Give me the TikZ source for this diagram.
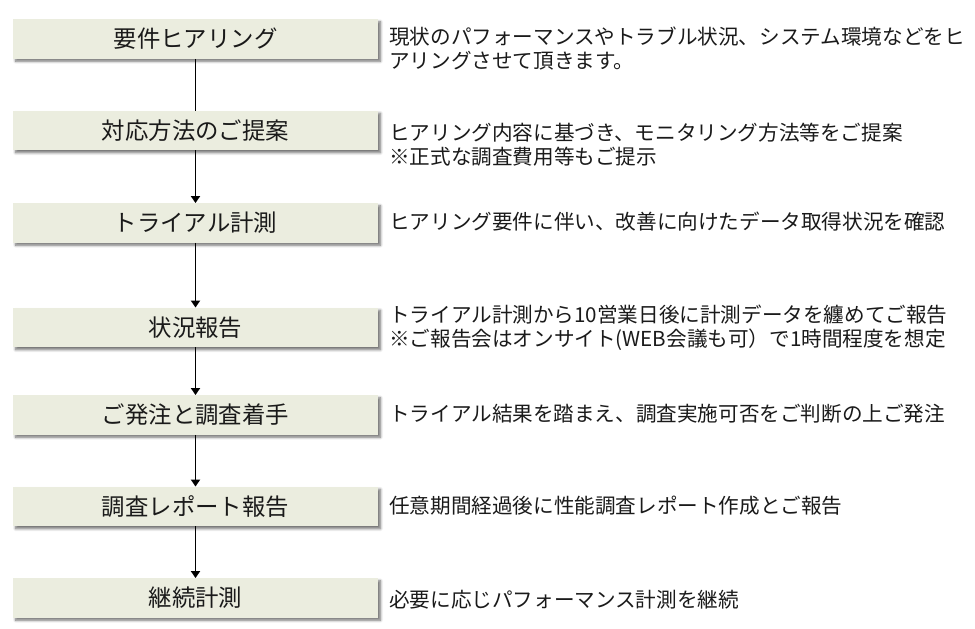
\documentclass[tikz,border=0pt]{standalone}
\usepackage{fontspec}
\newfontfamily\jp{Noto Sans CJK JP}
\usetikzlibrary{arrows.meta,shadows.blur}
\definecolor{boxfill}{HTML}{EBEDDF}
\definecolor{txt}{HTML}{1A1A1A}
\tikzset{
  stepbox/.style={draw=none, fill=boxfill, minimum width=365pt, minimum height=39.5pt,
    inner sep=0pt, font=\jp\fontsize{23.4}{26}\selectfont, text=txt,
    blur shadow={shadow xshift=2.5pt, shadow yshift=-2.5pt, shadow blur steps=6, shadow blur radius=2.5pt, shadow opacity=55}},
  desc/.style={anchor=west, inner sep=0pt, align=left, font=\jp\fontsize{20.6}{24}\selectfont, text=txt},
  link/.style={line width=1.8pt, black},
  arr/.style={link, -{Triangle[width=9pt,length=7pt]}}
}
\begin{document}
\begin{tikzpicture}[x=1pt,y=-1pt]
\useasboundingbox (0,0) rectangle (975,629);
\node[stepbox] (b1) at (195.5,39) {要件ヒアリング};
\node[stepbox] (b2) at (195.5,130.5) {対応方法のご提案};
\node[stepbox] (b3) at (195.5,223) {トライアル計測};
\node[stepbox] (b4) at (195.5,327.5) {状況報告};
\node[stepbox] (b5) at (195.5,415) {ご発注と調査着手};
\node[stepbox] (b6) at (195.5,506.5) {調査レポート報告};
\node[stepbox] (b7) at (195.5,598) {継続計測};

\node[desc] (t1) at (389,49) {現状のパフォーマンスやトラブル状況、システム環境などをヒ\\アリングさせて頂きます。};
\node[desc] (t2) at (389,145) {ヒアリング内容に基づき、モニタリング方法等をご提案\\※正式な調査費用等もご提示};
\node[desc] (t3) at (389,222) {ヒアリング要件に伴い、改善に向けたデータ取得状況を確認};
\node[desc] (t4) at (389,328) {トライアル計測から10営業日後に計測データを纏めてご報告\\※ご報告会はオンサイト(WEB会議も可）で1時間程度を想定};
\node[desc] (t5) at (389,414) {トライアル結果を踏まえ、調査実施可否をご判断の上ご発注};
\node[desc] (t6) at (389,506) {任意期間経過後に性能調査レポート作成とご報告};
\node[desc] (t7) at (389,600) {必要に応じパフォーマンス計測を継続};

\draw[link] (b1.south) -- (b2.north);
\draw[arr] (b2.south) -- (b3.north);
\draw[arr] (b3.south) -- (b4.north);
\draw[arr] (b4.south) -- (b5.north);
\draw[arr] (b5.south) -- (b6.north);
\draw[arr] (b6.south) -- (b7.north);
\end{tikzpicture}
\end{document}
